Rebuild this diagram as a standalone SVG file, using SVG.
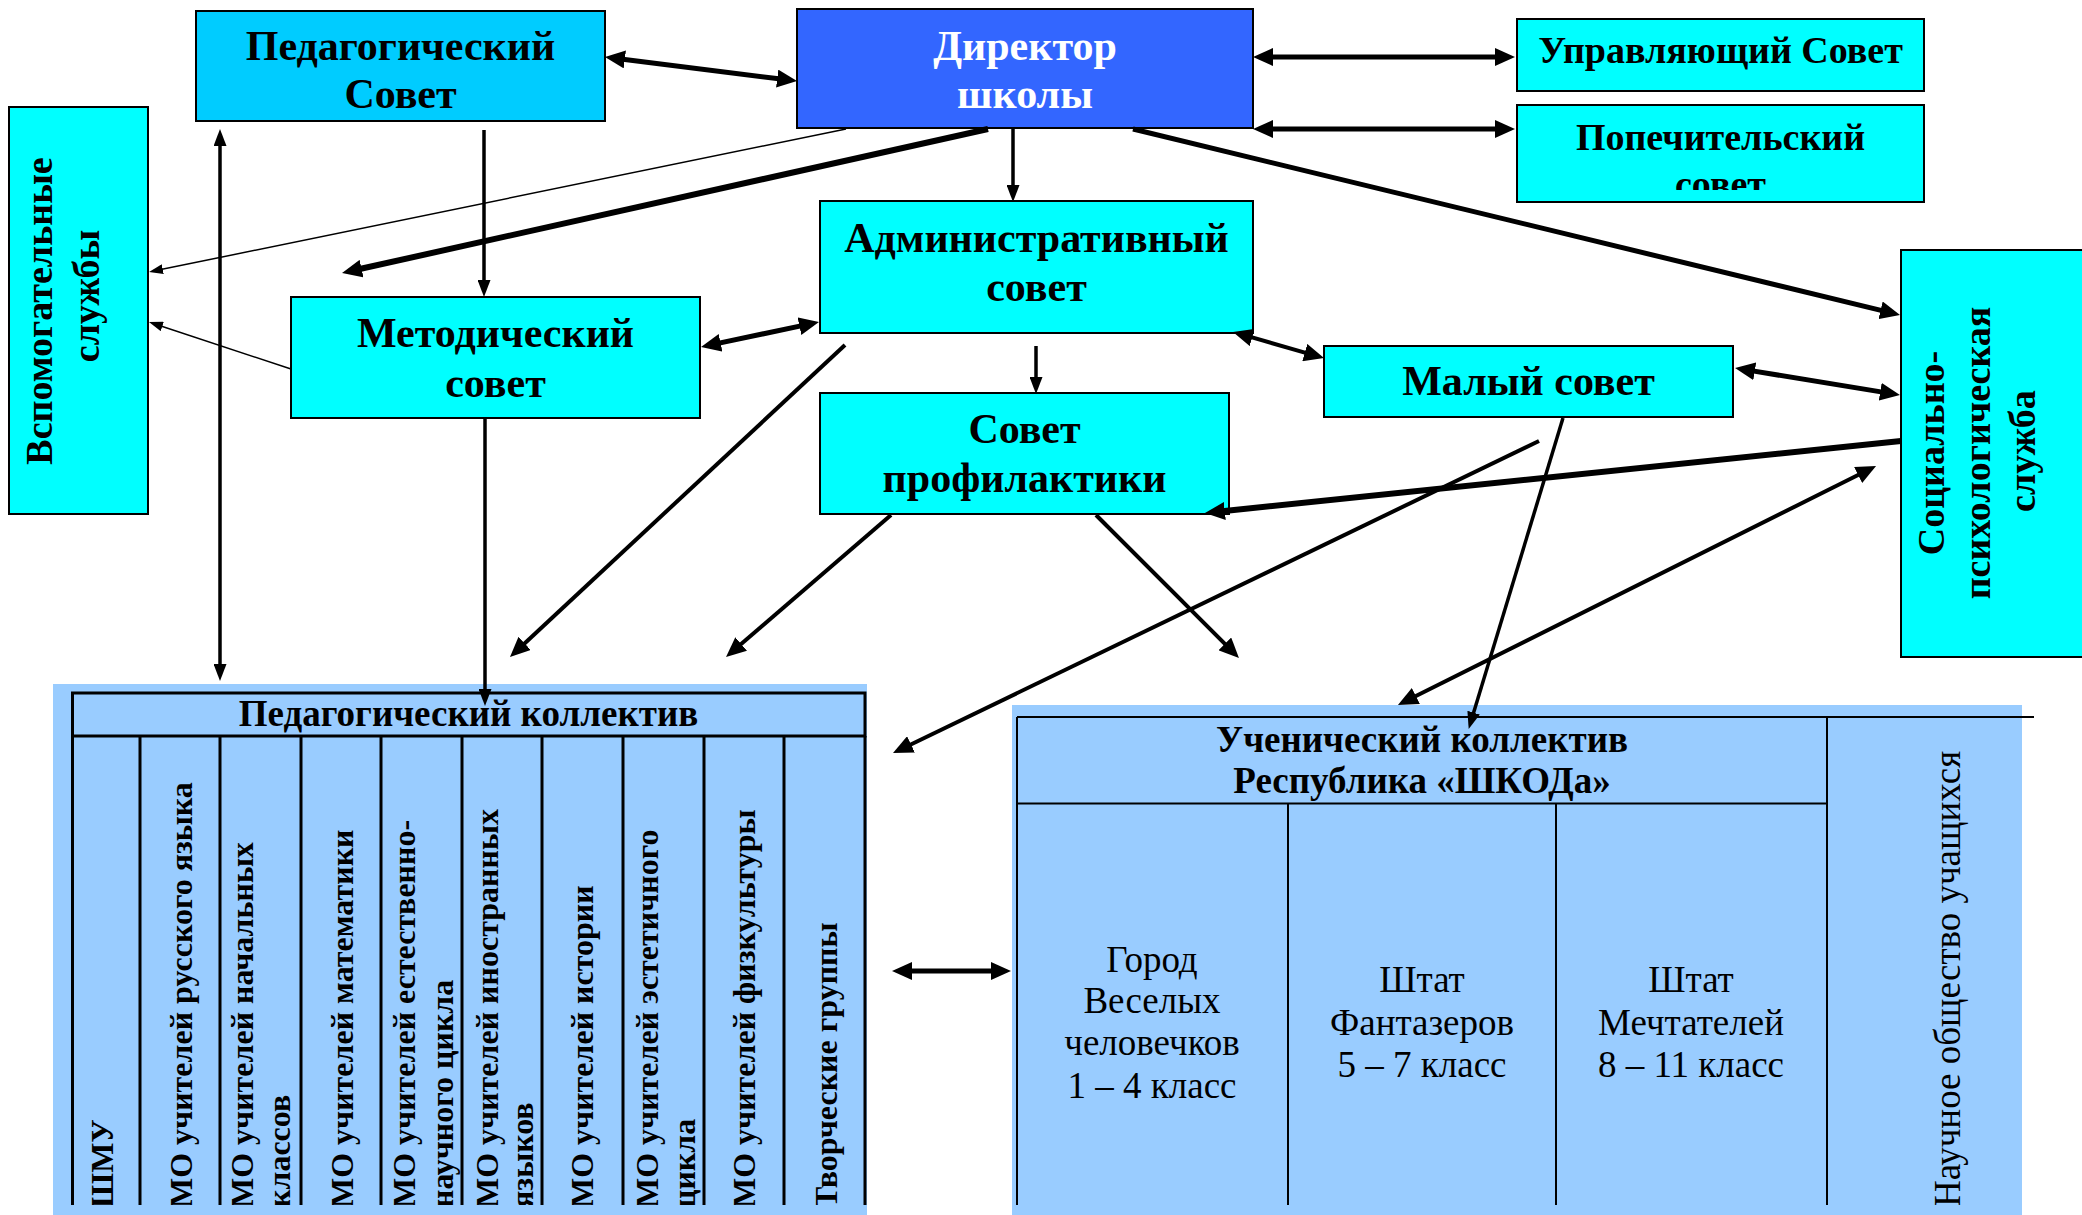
<svg xmlns="http://www.w3.org/2000/svg" width="2082" height="1215" viewBox="0 0 2082 1215">
<style>
.box{stroke:#000;stroke-width:2}
.cy{fill:#00FFFF}
.t{font-family:"Liberation Serif","Times New Roman",serif;font-weight:bold;fill:#000;text-anchor:middle}
.tr{font-family:"Liberation Serif","Times New Roman",serif;font-weight:normal;fill:#000;text-anchor:middle}
.b42{font-size:42px}
.b38{font-size:38px}
.b37{font-size:37px}
.col{font-family:"Liberation Serif","Times New Roman",serif;font-weight:bold;font-size:32px;fill:#000}
.tl{stroke:#000;stroke-width:3;fill:none}
.sl{stroke:#000;stroke-width:2;fill:none}
.c{stroke:#000;fill:none}
.w6{stroke-width:6}
.w5{stroke-width:5}
.w4{stroke-width:4}
.w3{stroke-width:3.5}
.w1{stroke-width:1.5}
.big{marker-end:url(#ahb)}
.bigd{marker-start:url(#ahb);marker-end:url(#ahb)}
.med{marker-end:url(#ahm)}
.medd{marker-start:url(#ahm);marker-end:url(#ahm)}
.sm{marker-end:url(#ahs)}
</style>
<defs>
<marker id="ahb" markerUnits="userSpaceOnUse" markerWidth="20" markerHeight="18" refX="10" refY="9" orient="auto-start-reverse" viewBox="0 0 20 18"><path d="M0,0 L20,9 L0,18 Z" fill="#000"/></marker>
<marker id="ahm" markerUnits="userSpaceOnUse" markerWidth="17" markerHeight="13" refX="8" refY="6.5" orient="auto-start-reverse" viewBox="0 0 17 13"><path d="M0,0 L17,6.5 L0,13 Z" fill="#000"/></marker>
<marker id="ahs" markerUnits="userSpaceOnUse" markerWidth="14" markerHeight="10" refX="7" refY="5" orient="auto-start-reverse" viewBox="0 0 14 10"><path d="M0,0 L14,5 L0,10 Z" fill="#000"/></marker>
<clipPath id="clipPop"><rect x="1517" y="105" width="407" height="85"/></clipPath>
<clipPath id="clipPed"><rect x="72" y="736" width="793" height="469"/></clipPath>
<clipPath id="clipSt"><rect x="1827" y="717" width="195" height="488"/></clipPath>
</defs>
<rect width="2082" height="1215" fill="#fff"/>

<g id="ped-collective">
<rect x="53" y="684" width="814" height="531" fill="#99CCFF"/>
<rect x="72.5" y="693" width="792.5" height="43" class="tl"/>
<path class="tl" d="M72.5,736 V1205 M140,736 V1205 M220,736 V1205 M301,736 V1205 M381,736 V1205 M462,736 V1205 M542,736 V1205 M623,736 V1205 M704,736 V1205 M784,736 V1205 M865,736 V1205"/>
<text class="t b37" x="468.5" y="726">Педагогический коллектив</text>
<g clip-path="url(#clipPed)">
<text class="col" transform="translate(113,1208) rotate(-90)">ШМУ</text>
<text class="col" transform="translate(192,1208) rotate(-90)">МО учителей русского языка</text>
<text class="col" transform="translate(253,1208) rotate(-90)">МО учителей начальных</text>
<text class="col" transform="translate(290,1208) rotate(-90)">классов</text>
<text class="col" transform="translate(353,1208) rotate(-90)">МО учителей математики</text>
<text class="col" transform="translate(415,1208) rotate(-90)">МО учителей естественно-</text>
<text class="col" transform="translate(453,1208) rotate(-90)">научного цикла</text>
<text class="col" transform="translate(498,1208) rotate(-90)">МО учителей иностранных</text>
<text class="col" transform="translate(533,1208) rotate(-90)">языков</text>
<text class="col" transform="translate(593,1208) rotate(-90)">МО учителей истории</text>
<text class="col" transform="translate(658,1208) rotate(-90)">МО учителей эстетичного</text>
<text class="col" transform="translate(695,1208) rotate(-90)">цикла</text>
<text class="col" transform="translate(755,1208) rotate(-90)">МО учителей физкультуры</text>
<text class="col" transform="translate(837,1208) rotate(-90)">Творческие группы</text>
</g>
</g>

<g id="student-collective">
<rect x="1012" y="705" width="1010" height="510" fill="#99CCFF"/>
<path class="sl" d="M1017,717 H2034 M1017,803.5 H1827 M1017,717 V1205 M1288,803.5 V1205 M1556,803.5 V1205 M1827,717 V1205"/>
<text class="t b37" x="1422" y="752">Ученический коллектив</text>
<text class="t b37" x="1422" y="793">Республика «ШКОДа»</text>
<g class="tr" font-size="37">
<text x="1152" y="972">Город</text>
<text x="1152" y="1013">Веселых</text>
<text x="1152" y="1055">человечков</text>
<text x="1152" y="1098">1 – 4 класс</text>
<text x="1422" y="992">Штат</text>
<text x="1422" y="1035">Фантазеров</text>
<text x="1422" y="1077">5 – 7 класс</text>
<text x="1691" y="992">Штат</text>
<text x="1691" y="1035">Мечтателей</text>
<text x="1691" y="1077">8 – 11 класс</text>
</g>
<g clip-path="url(#clipSt)">
<text class="tr" font-size="37" style="text-anchor:start" transform="translate(1960,1207) rotate(-90)">Научное общество учащихся</text>
</g>
</g>

<g id="ped-sovet">
<rect class="box" x="196" y="11" width="409" height="110" fill="#00CCFF"/>
<text class="t b42" x="400.5" y="60">Педагогический</text>
<text class="t b42" x="400.5" y="108">Совет</text>
</g>

<g id="director">
<rect class="box" x="797" y="9" width="456" height="119" fill="#3366FF"/>
<text class="t b42" x="1025" y="60" style="fill:#fff">Директор</text>
<text class="t b42" x="1025" y="108" style="fill:#fff">школы</text>
</g>

<g id="upr-sovet">
<rect class="box cy" x="1517" y="19" width="407" height="72"/>
<text class="t b38" x="1720.5" y="63">Управляющий Совет</text>
</g>

<g id="popech-sovet">
<rect class="box cy" x="1517" y="105" width="407" height="97"/>
<g clip-path="url(#clipPop)">
<text class="t b38" x="1720.5" y="150">Попечительский</text>
<text class="t b38" x="1720.5" y="197">совет</text>
</g>
</g>

<g id="vspom">
<rect class="box cy" x="9" y="107" width="139" height="407"/>
<text class="t b38" transform="translate(52,311) rotate(-90)">Вспомогательные</text>
<text class="t b38" transform="translate(99,296) rotate(-90)">службы</text>
</g>

<g id="admin-sovet">
<rect class="box cy" x="820" y="201" width="433" height="132"/>
<text class="t b42" x="1036.5" y="252">Административный</text>
<text class="t b42" x="1036.5" y="301">совет</text>
</g>

<g id="metod-sovet">
<rect class="box cy" x="291" y="297" width="409" height="121"/>
<text class="t b42" x="495.5" y="347">Методический</text>
<text class="t b42" x="495.5" y="397">совет</text>
</g>

<g id="maliy-sovet">
<rect class="box cy" x="1324" y="346" width="409" height="71"/>
<text class="t b42" x="1528.5" y="395">Малый совет</text>
</g>

<g id="profil-sovet">
<rect class="box cy" x="820" y="393" width="409" height="121"/>
<text class="t b42" x="1024.5" y="443">Совет</text>
<text class="t b42" x="1024.5" y="492">профилактики</text>
</g>

<g id="soc-psych">
<rect class="box cy" x="1901" y="250" width="190" height="407"/>
<text class="t b38" transform="translate(1944,453) rotate(-90)">Социально-</text>
<text class="t b38" transform="translate(1990,453) rotate(-90)">психологическая</text>
<text class="t b38" transform="translate(2035,451) rotate(-90)">служба</text>
</g>

<g id="connectors">
<line class="c w5 bigd" x1="614.9" y1="58.2" x2="787.1" y2="79.8"/>
<line class="c w5 bigd" x1="1263" y1="57" x2="1505" y2="57"/>
<line class="c w5 bigd" x1="1263" y1="129" x2="1505" y2="129"/>
<line class="c w3 med" x1="1013" y1="129" x2="1013" y2="193"/>
<line class="c w5 big" x1="1133" y1="129" x2="1890.3" y2="312.6"/>
<line class="c w6 big" x1="988" y1="129" x2="351.8" y2="270.8"/>
<line class="c w1 sm" x1="846" y1="129" x2="155.9" y2="270.6"/>
<line class="c w3 medd" x1="220" y1="138" x2="220" y2="672"/>
<line class="c w3 med" x1="484" y1="130" x2="484" y2="288"/>
<line class="c w1 sm" x1="291" y1="369" x2="155.6" y2="324.2"/>
<line class="c w5 bigd" x1="710.8" y1="344.9" x2="809.2" y2="324.1"/>
<line class="c w3 med" x1="485" y1="418" x2="485" y2="697"/>
<line class="c w4 big" x1="845" y1="345" x2="517.3" y2="650.2"/>
<line class="c w3 med" x1="1036" y1="346" x2="1036" y2="385"/>
<line class="c w4 bigd" x1="1242.6" y1="334.7" x2="1314.4" y2="355.3"/>
<line class="c w5 bigd" x1="1744.9" y1="369.6" x2="1890.1" y2="393.4"/>
<line class="c w6 big" x1="1901" y1="441" x2="1214.9" y2="512"/>
<line class="c w4 big" x1="891" y1="515" x2="733.6" y2="650.5"/>
<line class="c w4 big" x1="1096" y1="515" x2="1231.9" y2="650.9"/>
<line class="c w4 big" x1="1539" y1="441" x2="902" y2="748.7"/>
<line class="c w3 med" x1="1563" y1="418" x2="1471.3" y2="720.3"/>
<line class="c w4 bigd" x1="1867.1" y1="470.5" x2="1406.9" y2="700.5"/>
<line class="c w5 bigd" x1="902" y1="971" x2="1001" y2="971"/>
</g>
</svg>
